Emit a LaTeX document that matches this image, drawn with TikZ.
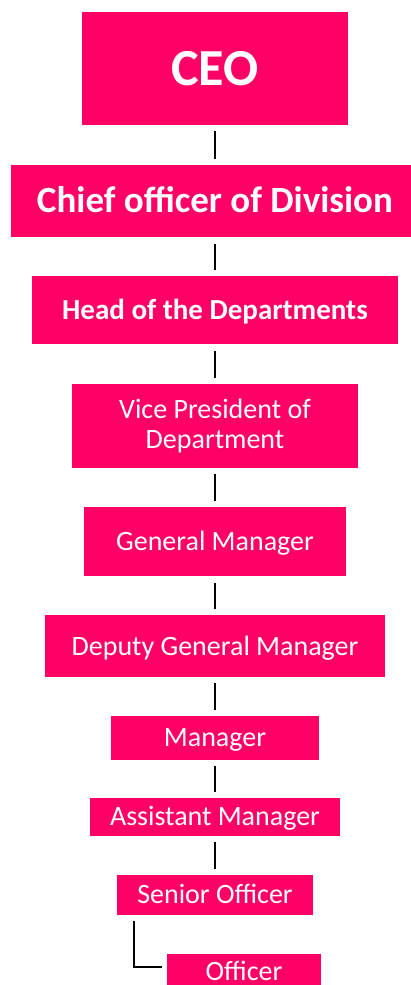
\documentclass[tikz,border=0pt]{standalone}
\usepackage{fontspec}
\setmainfont{Carlito}
\definecolor{rolepink}{HTML}{FF0066}
\begin{document}
\begin{tikzpicture}[x=1pt,y=-1pt,
  role/.style={fill=rolepink,draw=none,inner sep=0pt,text=white,
    font=\fontsize{28}{30}\selectfont,text height=17.7pt,text depth=0pt},
  boldrole/.style 2 args={role,font=\bfseries\fontsize{#1}{#1}\selectfont,text height=#2},
  link/.style={draw=black,line width=2pt,shorten <=6pt,shorten >=6pt}]
\useasboundingbox (0,0) rectangle (410,985);

% boxes, top to bottom
\node[boldrole={52}{32.9pt},minimum width=265.7pt,minimum height=112.7pt] (ceo) at (215,68.65) {CEO};
\node[boldrole={37}{23.4pt},minimum width=408pt,minimum height=72.3pt] (chief) at (215,201.15) {Chief officer of Division};
\node[boldrole={29}{18.3pt},minimum width=366.6pt,minimum height=68pt] (head) at (215,310.3) {Head of the Departments};
\node[role,align=center,text height=,text depth=,minimum width=286.6pt,minimum height=84.3pt] (vp) at (215,425.85) {Vice President of\\Department};
\node[role,minimum width=262.3pt,minimum height=69.3pt] (gm) at (215,541.65) {General Manager};
\node[role,minimum width=340.6pt,minimum height=61.7pt] (dgm) at (215,646.15) {Deputy General Manager};
\node[role,minimum width=208pt,minimum height=43.7pt] (mgr) at (215,737.85) {Manager};
\node[role,minimum width=250pt,minimum height=38pt] (asst) at (215,817) {Assistant Manager};
\node[role,minimum width=196pt,minimum height=40pt] (senior) at (215,895) {Senior Officer};
% last box runs to the lower edge; its caption sits slightly below the box middle
\node[role,text height=22.7pt,minimum width=154pt,minimum height=31pt] (officer) at (244,969.5) {Officer};

% reporting lines
\draw[link] (ceo) -- (chief);
\draw[link] (chief) -- (head);
\draw[link] (head) -- (vp);
\draw[link] (vp) -- (gm);
\draw[link] (gm) -- (dgm);
\draw[link] (dgm) -- (mgr);
\draw[link] (mgr) -- (asst);
\draw[link] (asst) -- (senior);
\coordinate (elbowtop) at ([xshift=17pt]senior.south west);
\draw[link,shorten >=5pt] (elbowtop) |- ([yshift=3pt]officer.west);
\end{tikzpicture}
\end{document}
